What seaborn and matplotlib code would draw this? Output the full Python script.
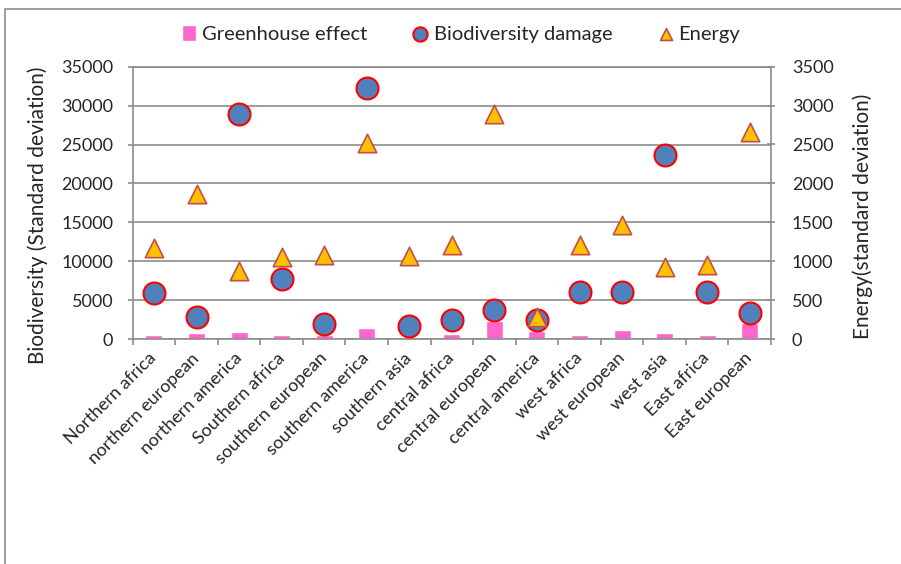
import numpy as np
import pandas as pd
import matplotlib
matplotlib.use("Agg")
import matplotlib.pyplot as plt
import seaborn as sns
from matplotlib.patches import Rectangle

# Regional results
regions = ["Northern africa", "northern european", "northern america", "Southern africa",
           "southern european", "southern america", "southern asia", "central africa",
           "central european", "central america", "west africa", "west european",
           "west asia", "East africa", "East european"]
greenhouse = [550, 750, 950, 550, 550, 1450, 250, 650, 2300, 1000, 450, 1200, 750, 500, 2100]
biodiversity = [5900, 2800, 28900, 7700, 1900, 32200, 1700, 2500, 3700, 2400,
                6000, 6100, 23600, 6100, 3300]
energy = [1170, 1860, 870, 1060, 1080, 2520, 1070, 1210, 2890, 280,
          1210, 1460, 930, 950, 2660]

left_ticks = list(range(0, 35001, 5000))
right_ticks = list(range(0, 3501, 500))

df = pd.DataFrame({
    "region": regions,
    "pos": np.arange(len(regions)),
    "greenhouse": greenhouse,
    "biodiversity": biodiversity,
    "energy": energy,
})

sns.set_theme(style="white")
plt.rcParams["font.family"] = ["Lato", "DejaVu Sans"]

GRAY = "#8c8c8c"
W, H = 901, 564
fig = plt.figure(figsize=(W / 100, H / 100), dpi=100)
x0, x1, y0, y1 = 132.7, 771.0, 66.7, 339.0
ax = fig.add_axes([x0 / W, 1 - y1 / H, (x1 - x0) / W, (y1 - y0) / H])
ax2 = ax.twinx()

sns.barplot(data=df, x="region", y="greenhouse", ax=ax, color="#FF66CC",
            width=0.4, saturation=1, label="Greenhouse effect", zorder=2)
sns.scatterplot(data=df, x="pos", y="biodiversity", ax=ax, marker="o", s=250,
                color="#4F81BD", edgecolor="#FF0000", linewidth=1.5,
                label="Biodiversity damage", zorder=3)
sns.scatterplot(data=df, x="pos", y="energy", ax=ax2, marker="^", s=175,
                color="#FFC000", edgecolor="#C0504D", linewidth=1.2,
                label="Energy", zorder=3)

ax.set_xlim(-0.5, len(regions) - 0.5)
ax.set_ylim(0, 35000)
ax2.set_ylim(0, 3500)
ax.set_yticks(left_ticks)
ax2.set_yticks(right_ticks)
ax.set_xticks(df["pos"])
ax.set_xticklabels(regions, rotation=45, ha="right", va="center",
                   rotation_mode="anchor", fontsize=13)
ax.set_xticks(np.arange(-0.5, len(regions), 1), minor=True)

ax.tick_params(axis="x", which="major", bottom=True, length=0, pad=12)
ax.tick_params(axis="x", which="minor", bottom=True, length=4.5, width=1.2,
               color=GRAY, direction="out")
ax.tick_params(axis="y", left=True, length=3.6, width=1.2, color=GRAY,
               direction="out", pad=10.5, labelsize=13)
ax2.tick_params(axis="y", right=True, length=6, width=1.2, color=GRAY,
                direction="inout", pad=12, labelsize=13)

ax.yaxis.grid(True, color=GRAY, linewidth=1.2)
ax.set_axisbelow(True)
for name, sp in ax.spines.items():
    sp.set_color(GRAY)
    sp.set_linewidth(1.2)
    sp.set_visible(name in ("left", "bottom", "top"))
for name, sp in ax2.spines.items():
    sp.set_color(GRAY)
    sp.set_linewidth(1.2)
    sp.set_visible(name == "right")

ax.set_xlabel("")
ax.set_ylabel("Biodiversity (Standard deviation)", fontsize=15)
ax.yaxis.set_label_coords(-0.132, 0.455)
ax2.set_ylabel("Energy(standard deviation)", fontsize=15)
ax2.yaxis.set_label_coords(1.127, 0.452)

# legend in series order: bars, circles, triangles
h1, l1 = ax.get_legend_handles_labels()
h2, l2 = ax2.get_legend_handles_labels()
lookup = dict(zip(l1 + l2, h1 + h2))
order = ["Greenhouse effect", "Biodiversity damage", "Energy"]
for a in (ax, ax2):
    if a.get_legend() is not None:
        a.get_legend().remove()
fig.legend([lookup[k] for k in order], order, loc="center",
           bbox_to_anchor=(461 / W, 1 - 34 / H),
           ncol=3, frameon=False, fontsize=14.5, handlelength=0.7, handleheight=0.8,
           handletextpad=0.3, columnspacing=2.3, markerscale=0.65)

# chart frame
fig.patches.append(Rectangle((5 / W, -0.1), 1.2, 1 - 9 / H + 0.1,
                             transform=fig.transFigure, fill=False,
                             edgecolor=GRAY, linewidth=1.2))

fig.savefig("out.png", dpi=100)
